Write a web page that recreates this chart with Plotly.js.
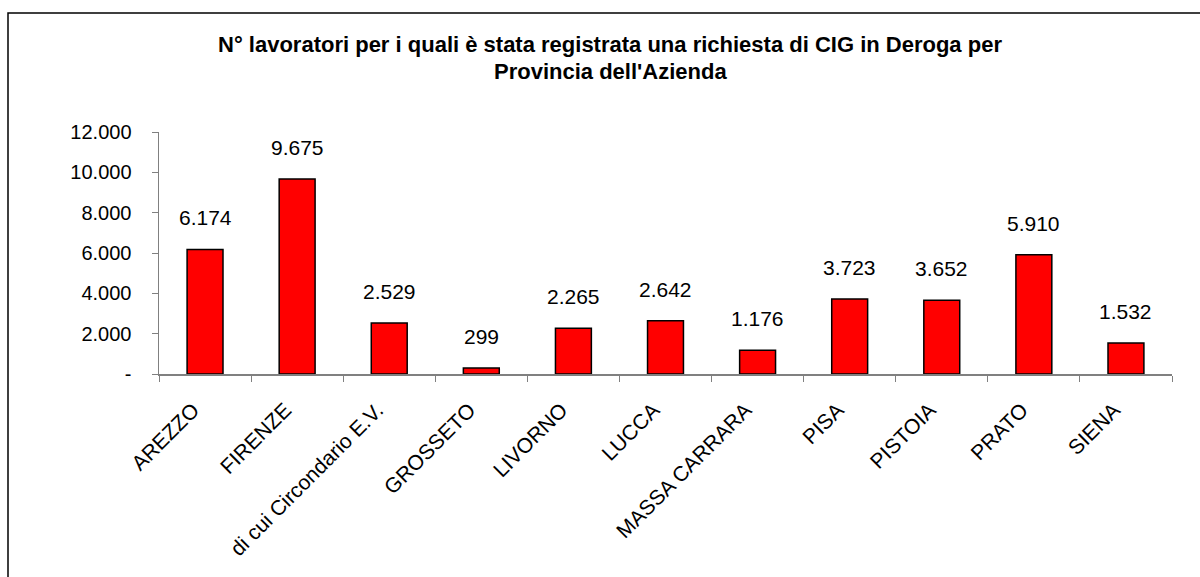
<!DOCTYPE html>
<html>
<head>
<meta charset="utf-8">
<script src="https://cdn.plot.ly/plotly-3.0.1.min.js"></script>
<style>html,body{margin:0;padding:0;background:#fff;}#chart{width:1200px;height:577px;}</style>
</head>
<body>
<div id="chart"></div>
<script>
const categories = ["AREZZO", "FIRENZE", "di cui Circondario E.V.", "GROSSETO", "LIVORNO", "LUCCA", "MASSA CARRARA", "PISA", "PISTOIA", "PRATO", "SIENA"];
const workers = [6174, 9675, 2529, 299, 2265, 2642, 1176, 3723, 3652, 5910, 1532];
const workerLabels = ["6.174", "9.675", "2.529", "299", "2.265", "2.642", "1.176", "3.723", "3.652", "5.910", "1.532"];
const yTickVals = [0, 2000, 4000, 6000, 8000, 10000, 12000];
const yTickText = ["-", "2.000", "4.000", "6.000", "8.000", "10.000", "12.000"];
const titleLine1 = "N° lavoratori per i quali è stata registrata una richiesta di CIG in Deroga per";
const titleLine2 = "Provincia dell'Azienda";

const FONT = "Liberation Sans, Arial, sans-serif";

const trace = {
  type: "bar",
  x: categories,
  y: workers,
  marker: {color: "#FF0000", line: {color: "#000000", width: 1.5}},
  hoverinfo: "x+y"
};

const annotations = categories.map((c, i) => ({
  x: c, y: workers[i], xref: "x", yref: "y",
  text: workerLabels[i], showarrow: false,
  yanchor: "bottom", yshift: 18,
  font: {family: FONT, size: 21, color: "#000"}
}));
annotations.push({
  xref: "paper", yref: "paper", x: (610 - 159) / 1013, y: (374 - 71) / 242,
  xanchor: "center", yanchor: "middle", showarrow: false,
  text: "<b>" + titleLine2 + "</b>",
  font: {family: FONT, size: 22, color: "#000"}
});

const layout = {
  width: 1200, height: 577,
  margin: {l: 159, r: 28, t: 132, b: 203},
  paper_bgcolor: "#fff", plot_bgcolor: "#fff",
  showlegend: false,
  bargap: 0.61,
  title: {
    text: "<b>" + titleLine1 + "</b>",
    x: 610 / 1200, xref: "container", xanchor: "center",
    y: 1 - 44 / 577, yref: "container", yanchor: "middle",
    font: {family: FONT, size: 22, color: "#000"}
  },
  xaxis: {
    type: "category",
    tickangle: -45,
    tickson: "boundaries",
    ticks: "outside", ticklen: 6, tickcolor: "#808080", tickwidth: 1,
    showline: true, linecolor: "#808080", linewidth: 1.5,
    showgrid: false, zeroline: false,
    ticklabelstandoff: 14,
    ticklabelshift: -12,
    tickfont: {family: FONT, size: 21, color: "#000"}
  },
  yaxis: {
    range: [0, 12000],
    tickvals: yTickVals, ticktext: yTickText,
    ticks: "outside", ticklen: 6, tickcolor: "#808080", tickwidth: 1,
    showline: true, linecolor: "#808080", linewidth: 1.5,
    showgrid: false, zeroline: false,
    ticklabelstandoff: 16,
    tickfont: {family: FONT, size: 20, color: "#000"}
  },
  annotations: annotations,
  shapes: [{
    type: "rect", xref: "paper", yref: "paper",
    x0: (8 - 159) / 1013, x1: (1210 - 159) / 1013,
    y0: (374 - 590) / 242, y1: (374 - 13) / 242,
    line: {color: "#000", width: 1.5}, fillcolor: "rgba(0,0,0,0)", layer: "below"
  }]
};

Plotly.newPlot("chart", [trace], layout, {displayModeBar: false, staticPlot: true});
</script>
</body>
</html>
